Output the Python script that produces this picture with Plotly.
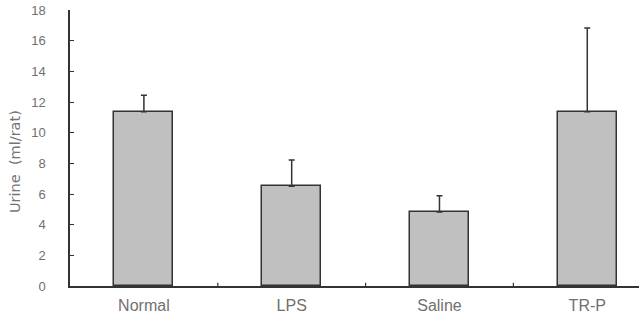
import plotly.graph_objects as go

categories = ["Normal", "LPS", "Saline", "TR-P"]
values = [11.37, 6.50, 4.83, 11.37]
errors = [1.07, 1.72, 1.06, 5.46]
y_ticks = [0, 2, 4, 6, 8, 10, 12, 14, 16, 18]

fig = go.Figure()
fig.add_trace(go.Bar(
    x=list(range(len(categories))), y=values, width=0.4,
    marker=dict(color="#c0c0c0", line=dict(color="#333333", width=1.5)),
    error_y=dict(type="data", array=errors, arrayminus=[0]*len(errors),
                 symmetric=False, color="#333333", thickness=1.5, width=3),
))

fig.update_layout(
    width=640, height=321,
    margin=dict(l=70, r=1, t=10, b=35),
    plot_bgcolor="white", paper_bgcolor="white",
    font=dict(family="Liberation Sans, Arial", size=12, color="#707070"),
    showlegend=False,
    bargap=0,
)
fig.update_xaxes(
    range=[-0.5, 3.35],
    tickmode="array", tickvals=list(range(len(categories))), ticktext=categories,
    ticks="", showgrid=False, zeroline=False,
    showline=True, linecolor="#333333", linewidth=1.5,
    tickfont=dict(family="Liberation Sans, Arial", size=16, color="#707070"),
    ticklabelstandoff=4,
)
# boundary tick marks on the x axis
for b in [0.5, 1.5, 2.5]:
    fig.add_shape(type="line", xref="x", yref="paper", x0=b, x1=b, y0=0, y1=0.012,
                  line=dict(color="#333333", width=1.2))
fig.update_yaxes(
    range=[0, 18], tickmode="array", tickvals=y_ticks,
    ticks="inside", ticklen=4, tickcolor="#333333", tickwidth=1.2,
    showgrid=False, zeroline=False,
    showline=True, linecolor="#333333", linewidth=1.5,
    tickfont=dict(family="Liberation Sans Narrow, Liberation Sans", size=13, color="#707070"),
    ticklabelstandoff=20,
)
fig.add_annotation(
    text="Urine  (ml/rat)", textangle=-90, showarrow=False,
    xref="paper", yref="paper", x=0, y=0.5, xanchor="center", yanchor="middle",
    xshift=-55, yshift=-14, font=dict(family="DejaVu Sans", size=14.5, color="#757575"),
)

fig.write_html("out.html")
